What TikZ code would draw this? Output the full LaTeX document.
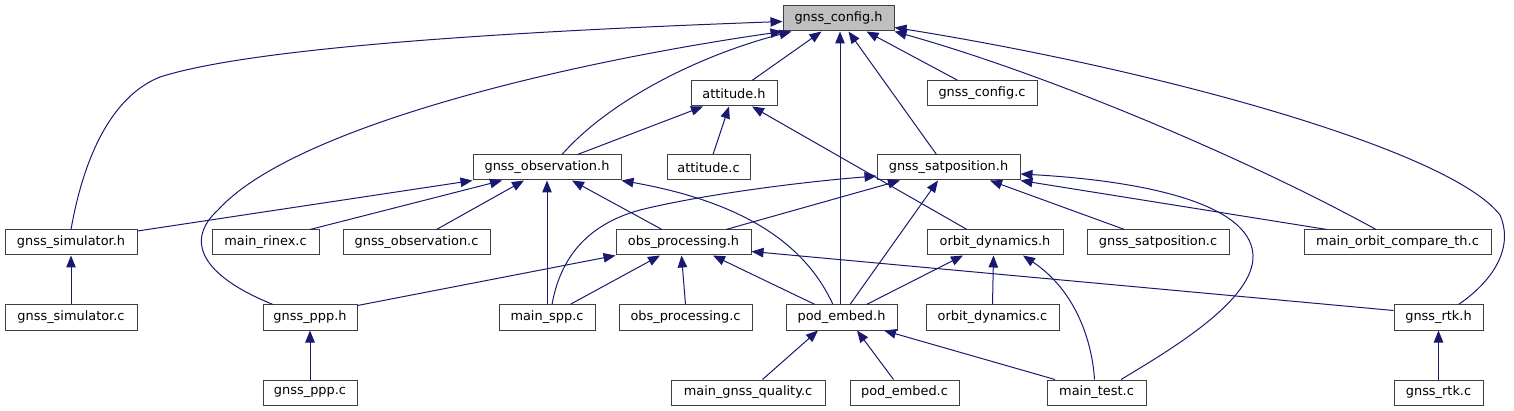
\documentclass[tikz,border=0pt]{standalone}
\usepackage{fontspec}
\setmainfont{DejaVu Sans}
\usetikzlibrary{arrows.meta}
\definecolor{midnight}{RGB}{25,25,112}

\begin{document}
\begin{tikzpicture}[x=1pt,y=-1pt,
  file/.style={draw=black!75,line width=1pt,fill=white,minimum height=25pt,inner sep=0pt,font=\fontsize{12.9}{14}\selectfont},
  root/.style={file,fill=black!25},
  dep/.style={draw=midnight,line width=1pt,-{Triangle[length=12pt,width=9.5pt]}}]
\path[use as bounding box] (0,0) rectangle (1514,411);

\node[root,minimum width=111pt] (cfg) at (838.5,18.5) {gnss\_config.h};
\node[file,minimum width=86pt] (att) at (734,93.5) {attitude.h};
\node[file,minimum width=110pt] (cfgc) at (982,93.5) {gnss\_config.c};
\node[file,minimum width=148pt] (obs) at (547,167.5) {gnss\_observation.h};
\node[file,minimum width=83pt] (attc) at (708.5,167.5) {attitude.c};
\node[file,minimum width=143pt] (sat) at (948.5,167.5) {gnss\_satposition.h};
\node[file,minimum width=132pt] (sim) at (71,242.5) {gnss\_simulator.h};
\node[file,minimum width=107pt] (rinex) at (265.5,242.5) {main\_rinex.c};
\node[file,minimum width=147pt] (obsc) at (416.5,242.5) {gnss\_observation.c};
\node[file,minimum width=135pt] (proc) at (683.5,242.5) {obs\_processing.h};
\node[file,minimum width=136pt] (orb) at (995,242.5) {orbit\_dynamics.h};
\node[file,minimum width=142pt] (satc) at (1158,242.5) {gnss\_satposition.c};
\node[file,minimum width=187pt] (cmp) at (1397.5,242.5) {main\_orbit\_compare\_th.c};
\node[file,minimum width=132pt] (simc) at (71,317.5) {gnss\_simulator.c};
\node[file,minimum width=94pt] (ppp) at (310,317.5) {gnss\_ppp.h};
\node[file,minimum width=96pt] (spp) at (547,317.5) {main\_spp.c};
\node[file,minimum width=133pt] (procc) at (685.5,317.5) {obs\_processing.c};
\node[file,minimum width=111pt] (pod) at (841.5,317.5) {pod\_embed.h};
\node[file,minimum width=133pt] (orbc) at (992.5,317.5) {orbit\_dynamics.c};
\node[file,minimum width=89pt] (rtk) at (1438.5,317.5) {gnss\_rtk.h};
\node[file,minimum width=94pt] (pppc) at (310,392.5) {gnss\_ppp.c};
\node[file,minimum width=154pt] (qual) at (748,392.5) {main\_gnss\_quality.c};
\node[file,minimum width=109pt] (podc) at (904.5,392.5) {pod\_embed.c};
\node[file,minimum width=99pt] (test) at (1096.5,392.5) {main\_test.c};
\node[file,minimum width=89pt] (rtkc) at (1438.5,392.5) {gnss\_rtk.c};

\draw[dep] (sim.north) .. controls (85,150) and (115,95) .. (160,77) .. controls (260,45) and (550,30) .. ([yshift=-3pt]cfg.west);
\draw[dep] ([xshift=-37pt]ppp.north) .. controls (200,275) and (185,240) .. (218,210) .. controls (290,130) and (550,65) .. (cfg.south west);
\draw[dep] ([xshift=15pt]obs.north) .. controls (610,100) and (700,55) .. ([xshift=9pt]cfg.south west);
\draw[dep] ([xshift=18pt]att.north) -- ([xshift=-17pt]cfg.south);
\draw[dep] ([xshift=-1.5pt]pod.north) -- ([xshift=1.5pt]cfg.south);
\draw[dep] ([xshift=-12pt]sat.north) -- ([xshift=10pt]cfg.south);
\draw[dep] ([xshift=-24pt]cfgc.north) -- ([xshift=28pt]cfg.south);
\draw[dep] ([xshift=-21.5pt]cmp.north) .. controls (1250,160) and (1050,75) .. (cfg.south east);
\draw[dep] ([xshift=20pt]rtk.north) .. controls (1490,283) and (1515,250) .. (1500,215) .. controls (1450,150) and (1160,70) .. ([yshift=-9pt]cfg.east);

\draw[dep] ([xshift=30.5pt]obs.north) -- ([xshift=-31pt]att.south);
\draw[dep] ([xshift=4.5pt]attc.north) -- ([xshift=-5pt]att.south);
\draw[dep] ([xshift=-28pt]orb.north) -- ([xshift=18pt]att.south);

\draw[dep] ([yshift=-1.5pt]sim.north east) -- (obs.south west);
\draw[dep] ([xshift=44.5pt]rinex.north) -- ([xshift=-45pt]obs.south);
\draw[dep] ([xshift=20pt]obsc.north) -- ([xshift=-23pt]obs.south);
\draw[dep] (spp) -- (obs);
\draw[dep] ([xshift=-21.5pt]proc.north) -- ([xshift=25pt]obs.south);
\draw[dep] ([xshift=-8.5pt]pod.north) .. controls (810,255) and (760,205) .. (obs.south east);

\draw[dep] ([xshift=5pt]spp.north) .. controls (560,260) and (585,225) .. (640,210) .. controls (700,195) and (800,182) .. ([yshift=-8.5pt]sat.west);
\draw[dep] ([xshift=42.5pt]proc.north) -- ([xshift=-48.5pt]sat.south);
\draw[dep] ([xshift=8.5pt]pod.north) -- ([xshift=-10.5pt]sat.south);
\draw[dep] ([xshift=-33.5pt]satc.north) -- ([xshift=41.5pt]sat.south);
\draw[dep] ([xshift=-70.5pt]cmp.north) -- (sat.south east);
\draw[dep] ([xshift=24.5pt]test.north) .. controls (1170,350) and (1255,300) .. (1253,255) .. controls (1250,200) and (1130,180) .. ([yshift=-6.5pt]sat.east);

\draw[dep] ([yshift=-1pt]ppp.north east) -- (proc.south west);
\draw[dep] ([xshift=23pt]spp.north) -- ([xshift=-23.5pt]proc.south);
\draw[dep] (procc.north) -- ([xshift=-2pt]proc.south);
\draw[dep] ([xshift=-26.5pt]pod.north) -- ([xshift=29.5pt]proc.south);
\draw[dep] ([yshift=7pt]rtk.west) -- ([yshift=-9pt]proc.east);

\draw[dep] ([xshift=25pt]pod.north) -- ([xshift=-32pt]orb.south);
\draw[dep] (orbc.north) -- ([xshift=-1.5pt]orb.south);
\draw[dep] ([xshift=-2pt]test.north) .. controls (1092,340) and (1075,290) .. ([xshift=28pt]orb.south);

\draw[dep] (simc) -- (sim);
\draw[dep] (pppc) -- (ppp);
\draw[dep] ([xshift=14.5pt]qual.north) -- ([xshift=-23.5pt]pod.south);
\draw[dep] ([xshift=-11pt]podc.north) -- ([xshift=15.5pt]pod.south);
\draw[dep] ([xshift=-41.5pt]test.north) -- ([xshift=42.5pt]pod.south);
\draw[dep] (rtkc) -- (rtk);
\end{tikzpicture}
\end{document}
